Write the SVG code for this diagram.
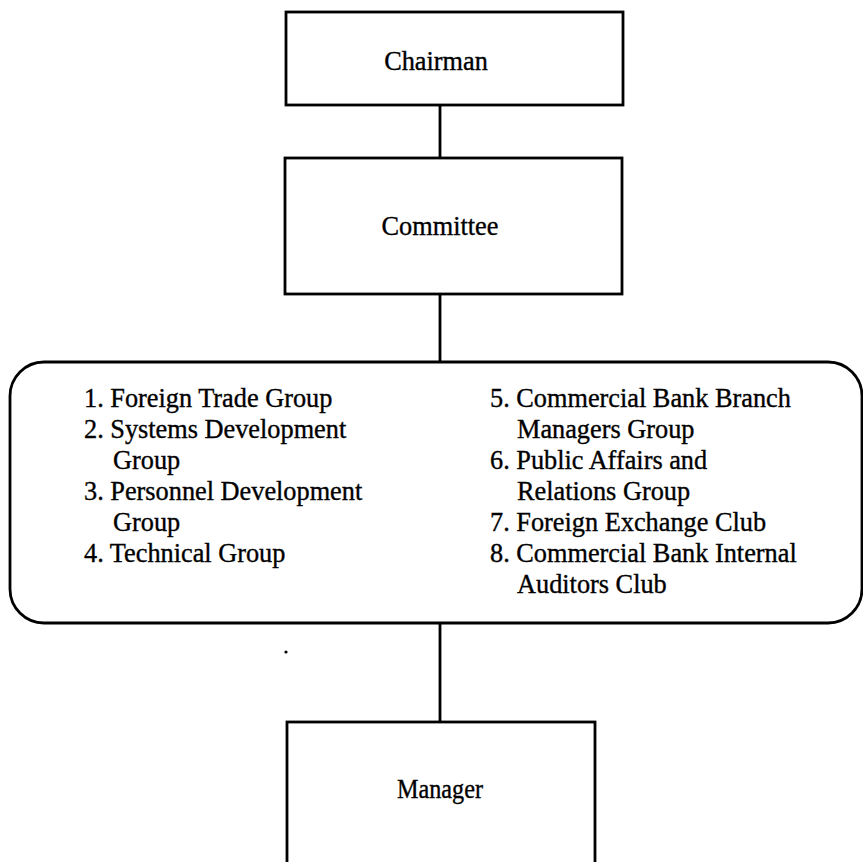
<svg xmlns="http://www.w3.org/2000/svg" width="863" height="862" viewBox="0 0 863 862">
  <style>
    .box { fill: #ffffff; stroke: #000000; stroke-width: 2.8; }
    .wire { fill: none; stroke: #000000; stroke-width: 2.8; }
    text { font-family: "Liberation Serif", "Times New Roman", serif; font-size: 26.3px; fill: #000000; stroke: #000000; stroke-width: 0.35; }
    .mid { text-anchor: middle; }
  </style>
  <rect width="863" height="862" fill="#ffffff"/>

  <g id="connectors">
    <line class="wire" x1="440" y1="106" x2="440" y2="158"/>
    <line class="wire" x1="440" y1="294" x2="440" y2="362"/>
    <line class="wire" x1="440" y1="623" x2="440" y2="722"/>
  </g>

  <g id="chairman">
    <rect class="box" x="286" y="12" width="337" height="93"/>
    <text class="mid" x="436" y="70">Chairman</text>
  </g>

  <g id="committee">
    <rect class="box" x="285" y="158" width="337" height="136"/>
    <text class="mid" x="440" y="235">Committee</text>
  </g>

  <g id="groups">
    <rect class="box" x="10" y="362" width="852" height="261" rx="34" ry="34"/>
    <text x="84" y="407">1. Foreign Trade Group</text>
    <text x="84" y="438">2. Systems Development</text>
    <text x="113" y="469">Group</text>
    <text x="84" y="500">3. Personnel Development</text>
    <text x="113" y="531">Group</text>
    <text x="84" y="562">4. Technical Group</text>
    <text x="490" y="407">5. Commercial Bank Branch</text>
    <text x="517" y="438">Managers Group</text>
    <text x="490" y="469">6. Public Affairs and</text>
    <text x="517" y="500">Relations Group</text>
    <text x="490" y="531">7. Foreign Exchange Club</text>
    <text x="490" y="562">8. Commercial Bank Internal</text>
    <text x="517" y="593">Auditors Club</text>
  </g>

  <g id="manager">
    <rect class="box" x="287" y="722" width="308" height="160"/>
    <text class="mid" x="440" y="798" textLength="86" lengthAdjust="spacingAndGlyphs">Manager</text>
  </g>

  <circle cx="286" cy="652" r="1.6" fill="#000000"/>
</svg>
